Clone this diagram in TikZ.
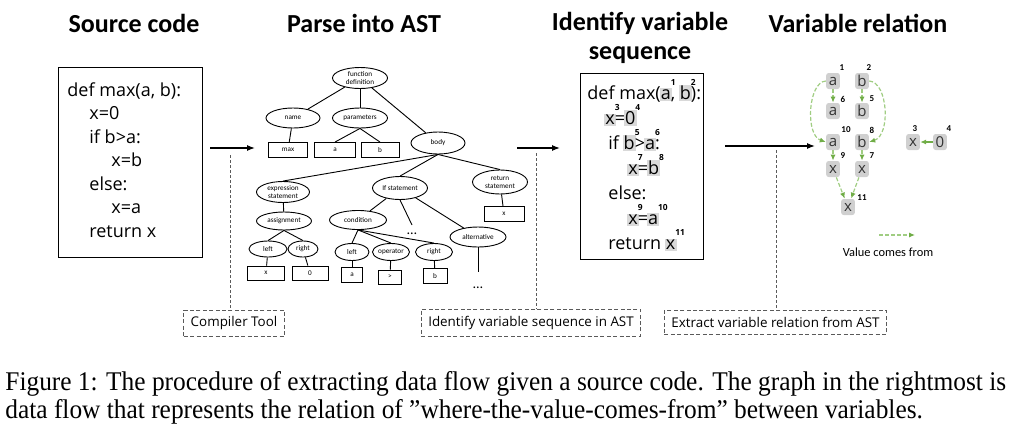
\documentclass[tikz,border=0pt]{standalone}
\usepackage{fontspec}
\setmainfont{Carlito}
\newfontfamily\codefont{Open Sans}
\newfontfamily\capfont[FakeStretch=0.94]{Liberation Serif}
\usepackage{xcolor}
\definecolor{hlGray}{RGB}{217,217,217}
\definecolor{boxGray}{RGB}{208,208,208}
\definecolor{flowGreen}{RGB}{112,173,71}
\definecolor{flowLight}{RGB}{160,205,130}
\definecolor{lineGray}{RGB}{90,90,90}
\usetikzlibrary{positioning,arrows.meta,calc,shapes.geometric}

% highlighted variable with its index
\newcommand{\hv}[2]{\hspace{-0.6pt}{\setlength{\fboxsep}{0.6pt}\colorbox{hlGray}{#1}}\hspace{-0.6pt}\rlap{\raisebox{1.45ex}{\fontsize{4.2}{4.2}\selectfont\bfseries #2}}}

\begin{document}
\begin{tikzpicture}[x=0.5pt,y=-0.5pt,
  title/.style={font=\fontsize{13}{14.5}\selectfont\bfseries,align=center,inner sep=0pt},
  codebox/.style={draw,line width=0.6pt,anchor=north west,inner sep=0pt},
  code/.style={font=\codefont\fontsize{9}{11.75}\selectfont,align=left,anchor=north west,inner sep=0pt},
  ast/.style 2 args={ellipse,draw,line width=0.45pt,inner sep=0pt,minimum width=#1,minimum height=#2,font=\fontsize{3.6}{4}\selectfont,align=center},
  leaf/.style 2 args={draw,line width=0.45pt,inner sep=0pt,minimum width=#1,minimum height=#2,font=\fontsize{3.6}{4}\selectfont},
  more/.style={inner sep=0pt,outer sep=4pt,font=\fontsize{7}{7}\selectfont},
  edge/.style={line width=0.45pt},
  tool/.style={draw=lineGray,dash pattern=on 2pt off 1.2pt,line width=0.4pt,font=\codefont\fontsize{6.7}{8}\selectfont,inner xsep=3.5pt,minimum height=11.5pt},
  link/.style={lineGray,dash pattern=on 1.5pt off 1pt,line width=0.4pt},
  a/.style={-{Latex[length=4pt,width=3pt]},line width=0.6pt},
  var/.style={fill=boxGray,rounded corners=1.2pt,inner sep=0pt,minimum width=6.8pt,minimum height=8pt,font=\codefont\fontsize{7.5}{7.5}\selectfont,text=black!80},
  num/.style={font=\fontsize{4.5}{5}\selectfont\bfseries,inner sep=0pt},
  flow/.style={flowLight,dash pattern=on 2pt off 1pt,line width=0.6pt,-{Latex[length=3pt,width=2.6pt,color=flowGreen]}},
  capt/.style={font=\capfont\fontsize{13.5}{14}\selectfont,align=left,anchor=north west,inner sep=0pt}]
  \useasboundingbox (0,0) rectangle (1011,429);

  % titles
  \node[title] (tsrc) at (134,23) {Source code};
  \node[title] (tast) at (364,23) {Parse into AST};
  \node[title] (tseq) at (640,37.5) {Identify variable\\sequence};
  \node[title] (trel) at (858,23) {Variable relation};

  % source code
  \node[codebox,minimum width=72pt,minimum height=95pt] (srcbox) at (58,67) {};
  \node[code] (src) at (67,82) {def max(a, b):\\
    \hspace*{11pt}x=0\\
    \hspace*{11pt}if b>a:\\
    \hspace*{22pt}x=b\\
    \hspace*{11pt}else:\\
    \hspace*{22pt}x=a\\
    \hspace*{11pt}return x};

  % AST
  \node[ast={27.5pt}{10.5pt}] (fundef) at (360,78) {function\\definition};
  \node[ast={27pt}{10pt}] (name) at (293,118) {name};
  \node[ast={27.5pt}{10pt}] (params) at (360,118) {parameters};
  \node[ast={27pt}{11pt}] (body) at (438,143) {body};
  \node[leaf={19.5pt}{7.5pt}] (pmax) at (288,150) {max};
  \node[leaf={20.5pt}{7.5pt}] (pa) at (335,150) {a};
  \node[leaf={19pt}{7.5pt}] (pb) at (380,150) {b};
  \node[ast={26.5pt}{10.5pt}] (exprst) at (283,192) {expression\\statement};
  \node[ast={27.5pt}{11.5pt}] (ifst) at (400,188) {If statement};
  \node[ast={27.5pt}{12pt}] (retst) at (500,182) {return\\statement};
  \node[leaf={20pt}{7.5pt}] (rx) at (504,214) {x};
  \node[ast={27.5pt}{9pt}] (assign) at (284,221) {assignment};
  \node[ast={19pt}{8pt}] (aleft) at (268,249) {left};
  \node[ast={15pt}{8pt}] (aright) at (303,249) {right};
  \node[leaf={18.5pt}{7pt}] (ax) at (266,273) {x};
  \node[leaf={18pt}{7pt}] (a0) at (310,273) {0};
  \node[ast={28.5pt}{9.5pt}] (cond) at (358,220) {condition};
  \node[ast={17pt}{8.5pt}] (cleft) at (352,252) {left};
  \node[ast={18.5pt}{8.5pt}] (cop) at (391,252) {operator};
  \node[ast={18.5pt}{8.5pt}] (cright) at (434,252) {right};
  \node[leaf={10.5pt}{7.5pt}] (ca) at (352,275) {a};
  \node[leaf={11.5pt}{7pt}] (cgt) at (390,277) {>};
  \node[leaf={12pt}{7.5pt}] (cb) at (435,276) {b};
  \node[ast={28pt}{10pt}] (alt) at (478,237) {alternative};
  \node[more] (dotsa) at (412,234) {\dots};
  \coordinate (altend) at (478,272);
  \node[more] (dotsb) at (478,288) {\dots};

  \draw[edge] (fundef) -- (name);
  \draw[edge] (fundef) -- (params);
  \draw[edge] (fundef) -- (body);
  \draw[edge] (name) -- (pmax);
  \draw[edge] (params.south) -- (pa.north);
  \draw[edge] (params.south) -- (pb.north);
  \draw[edge] (body.south) -- (exprst.north);
  \draw[edge] (body.south) -- (ifst.north);
  \draw[edge] (body.south) -- (retst.north);
  \draw[edge] (retst) -- (rx);
  \draw[edge] (exprst) -- (assign);
  \draw[edge] (assign.south) -- (aleft.north);
  \draw[edge] (assign.south) -- (aright.north);
  \draw[edge] (aleft) -- (ax);
  \draw[edge] (aright) -- (a0);
  \draw[edge] (ifst) -- (cond);
  \draw[edge] (ifst.south) -- (dotsa.north);
  \draw[edge] (ifst) -- (alt);
  \draw[edge] (cond.south) -- (cleft.north);
  \draw[edge] (cond.south) -- (cop.north);
  \draw[edge] (cond.south) -- (cright.north);
  \draw[edge] (cleft) -- (ca);
  \draw[edge] (cop) -- (cgt);
  \draw[edge] (cright) -- (cb);
  \draw[edge] (alt) -- (altend);

  % variable sequence
  \node[codebox,minimum width=61.5pt,minimum height=93pt] (seqbox) at (580,73) {};
  \node[code,font=\codefont\fontsize{9}{12.5}\selectfont] (seq) at (587,79) {def max(\hv{a}{1}, \hv{b}{2}):\\
    \hspace*{9pt}\hv{x}{3}=\hv{0}{4}\\
    \hspace*{10.5pt}if \hv{b}{5}>\hv{a}{6}:\\
    \hspace*{20.5pt}\hv{x}{7}=\hv{b}{8}\\
    \hspace*{10.5pt}else:\\
    \hspace*{20.5pt}\hv{x}{9}=\hv{a}{10}\\
    \hspace*{10.5pt}return \hv{x}{11}};

  % variable relation
  \node[var] (va1) at (833,81) {a};
  \node[var] (vb2) at (862,81) {b};
  \node[var] (va6) at (833,111) {a};
  \node[var] (vb5) at (862,111) {b};
  \node[var] (va10) at (833,142) {a};
  \node[var] (vb8) at (862,142) {b};
  \node[var] (vx9) at (833,169) {x};
  \node[var] (vx7) at (862,169) {x};
  \node[var] (vx11) at (848,207) {x};
  \node[var] (vx3) at (913,142) {x};
  \node[var] (v04) at (940,142) {0};
  \node[num] (n1) at (842,68) {1};
  \node[num] (n2) at (869,68) {2};
  \node[num] (n6) at (843,99) {6};
  \node[num] (n5) at (872,99) {5};
  \node[num] (n10) at (846,130) {10};
  \node[num] (n8) at (872,130) {8};
  \node[num] (n9) at (843,156) {9};
  \node[num] (n7) at (872,156) {7};
  \node[num] (n11) at (862,198) {11};
  \node[num] (n3) at (915,129) {3};
  \node[num] (n4) at (949,129) {4};

  \draw[flow] (va1) -- (va6);
  \draw[flow] (vb2) -- (vb5);
  \draw[flow] (va1.west) .. controls (808,82) and (805,135) .. (va10.west);
  \draw[flow] (vb2.east) .. controls (888,82) and (891,135) .. (vb8.east);
  \draw[flow] (va10) -- (vx9);
  \draw[flow] (vb8) -- (vx7);
  \draw[flow] (vx9) -- (vx11);
  \draw[flow] (vx7) -- (vx11);
  \draw[flow,flowGreen,solid] (v04) -- (vx3);

  % legend
  \coordinate (lg1) at (879,235);
  \coordinate (lg2) at (915,235);
  \draw[flow] (lg1) -- (lg2);
  \node[font=\fontsize{6.2}{7}\selectfont,inner sep=0pt] (legend) at (888,252) {Value comes from};

  % steps
  \coordinate (s1) at (210,148); \coordinate (e1) at (255,148);
  \coordinate (s2) at (517,148); \coordinate (e2) at (560,148);
  \coordinate (s3) at (725,146); \coordinate (e3) at (815,146);
  \draw[a] (s1) -- (e1);
  \draw[a] (s2) -- (e2);
  \draw[a] (s3) -- (e3);

  \node[tool] (tool1) at (234,323.5) {Compiler Tool};
  \node[tool] (tool2) at (531,322.5) {Identify variable sequence in AST};
  \node[tool] (tool3) at (775.5,322.5) {Extract variable relation from AST};
  \coordinate (k1) at (230,155);
  \coordinate (k2) at (536,153);
  \coordinate (k3) at (776,150);
  \draw[link] (k1) -- (k1 |- tool1.north);
  \draw[link] (k2) -- (k2 |- tool2.north);
  \draw[link] (k3) -- (k3 |- tool3.north);

  % caption
  \node[capt] (caption) at (5,371) {Figure 1: The procedure of extracting data flow given a source code. The graph in the rightmost is\\
    data flow that represents the relation of ”where-the-value-comes-from” between variables.};
\end{tikzpicture}
\end{document}
